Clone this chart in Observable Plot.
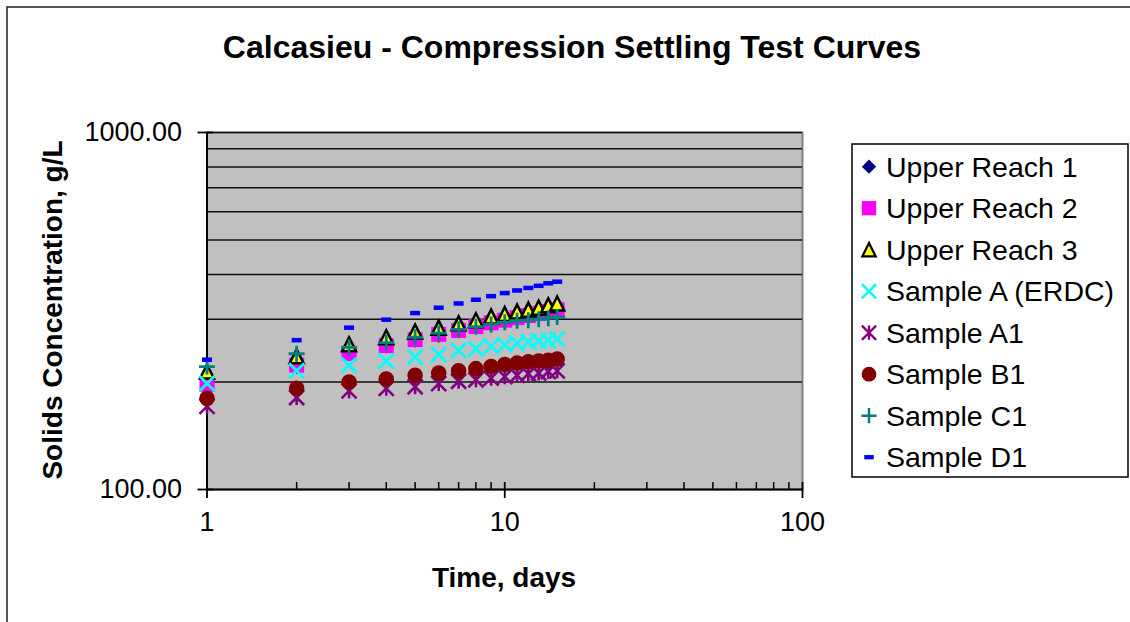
<!DOCTYPE html>
<html><head><meta charset="utf-8">
<script src="https://cdn.jsdelivr.net/npm/d3@7"></script>
<script src="https://cdn.jsdelivr.net/npm/@observablehq/plot@0.6"></script>
<style>
html,body{margin:0;padding:0;background:#fff;}
#chart{width:1130px;height:622px;overflow:hidden;position:relative;}
</style></head><body><div id="chart"></div>
<script>
// ---------- data ----------
const chartTitle = "Calcasieu - Compression Settling Test Curves";
const xTitle = "Time, days";
const yTitle = "Solids Concentration, g/L";

const days = [1, 2, 3, 4, 5, 6, 7, 8, 9, 10, 11, 12, 13, 14, 15];

const seriesNames = ["Upper Reach 1", "Upper Reach 2", "Upper Reach 3", "Sample A (ERDC)",
                     "Sample A1", "Sample B1", "Sample C1", "Sample D1"];

const upperReach1 = [195, 221, 240, 252, 262, 270, 278, 285, 291, 297, 302, 306, 310, 314, 318];
const upperReach2 = [197, 223, 241, 253, 263, 272, 279, 286, 293, 298, 303, 307, 311, 315, 319];
const upperReach3 = [214, 236, 255, 267, 277, 284, 292, 298, 305, 310, 315, 319, 323, 328, 332];
const sampleA     = [198, 215, 223, 229, 235, 239, 245, 248, 252, 254, 257, 259, 261, 262, 264];
const sampleA1    = [171, 181, 189, 192, 194, 198, 201, 203, 205, 207, 209, 211, 212, 214, 215];
const sampleB1    = [180, 192, 200, 204, 209, 212, 215, 218, 221, 224, 226, 228, 229, 230, 232];
const sampleC1    = [221, 240, 250, 258, 267, 274, 281, 286, 290, 294, 297, 298, 300, 302, 304];
const sampleD1    = [231, 262, 284, 299, 312, 323, 332, 340, 348, 355, 361, 367, 372, 378, 382];

const seriesValues = [upperReach1, upperReach2, upperReach3, sampleA, sampleA1, sampleB1, sampleC1, sampleD1];

const xTicks = [1, 10, 100];
const xMinorTicks = [2, 3, 4, 5, 6, 7, 8, 9, 20, 30, 40, 50, 60, 70, 80, 90];
const yTicks = [100, 1000];
const yGrid = [200, 300, 400, 500, 600, 700, 800, 900, 1000];

// ---------- marker shapes (Excel-like) ----------
const half = s => Math.sqrt(s / Math.PI);
const symDiamond = {draw(c, s) { const h = half(s); c.moveTo(0, -h); c.lineTo(h, 0); c.lineTo(0, h); c.lineTo(-h, 0); c.closePath(); }};
const symSquare = {draw(c, s) { const h = half(s); c.rect(-h, -h, 2 * h, 2 * h); }};
const symTriangle = {draw(c, s) { const h = half(s); c.moveTo(0, -h); c.lineTo(h, h); c.lineTo(-h, h); c.closePath(); }};
const symTimes = {draw(c, s) { const h = half(s); c.moveTo(-h, -h); c.lineTo(h, h); c.moveTo(-h, h); c.lineTo(h, -h); }};
const symStar = {draw(c, s) { const h = half(s); c.moveTo(-h, -h); c.lineTo(h, h); c.moveTo(-h, h); c.lineTo(h, -h); c.moveTo(0, -h); c.lineTo(0, h); }};
const symCircle = {draw(c, s) { const h = half(s); c.moveTo(h, 0); c.arc(0, 0, h, 0, 2 * Math.PI); c.closePath(); }};
const symPlus = {draw(c, s) { const h = half(s); c.moveTo(-h, 0); c.lineTo(h, 0); c.moveTo(0, -h); c.lineTo(0, h); }};
const symDash = {draw(c, s) { const h = half(s); c.rect(-h, -0.45 * h, 2 * h, 0.9 * h); }};

const styles = [
  {symbol: symDiamond,  r: 7.5, fill: "#000080", stroke: "none",    strokeWidth: 0},
  {symbol: symSquare,   r: 7.5, fill: "#FF00FF", stroke: "none",    strokeWidth: 0},
  {symbol: symTriangle, r: 7,   fill: "#FFFF00", stroke: "#000000", strokeWidth: 2.5},
  {symbol: symTimes,    r: 7.5, fill: "none",    stroke: "#00FFFF", strokeWidth: 2.8},
  {symbol: symStar,     r: 7.5, fill: "none",    stroke: "#800080", strokeWidth: 2.6},
  {symbol: symCircle,   r: 7.8, fill: "#800000", stroke: "none",    strokeWidth: 0},
  {symbol: symPlus,     r: 8,   fill: "none",    stroke: "#008080", strokeWidth: 2.8},
  {symbol: symDash,     r: 5,   fill: "#0000FF", stroke: "none",    strokeWidth: 0}
];

const tables = seriesValues.map((vals, si) => days.map((d, i) => ({day: d, value: vals[i], series: seriesNames[si]})));

const FONT = "'Liberation Sans', Arial, Helvetica, sans-serif";

const chart = Plot.plot({
  width: 1130,
  height: 622,
  marginLeft: 206.5,
  marginRight: 328,
  marginTop: 132,
  marginBottom: 133,
  style: {fontFamily: FONT, fontSize: "27px", background: "white", overflow: "visible", color: "black"},
  x: {type: "log", domain: [1, 100], axis: null},
  y: {type: "log", domain: [100, 1000], axis: null},
  marks: [
    Plot.frame({fill: "#C0C0C0", stroke: "#808080", strokeWidth: 2}),
    Plot.gridY(yGrid, {stroke: "#111", strokeOpacity: 1, strokeWidth: 1.5}),
    Plot.ruleX([1], {stroke: "#000", strokeWidth: 2}),
    Plot.ruleY([100], {stroke: "#000", strokeWidth: 2}),
    Plot.tickX(xMinorTicks, {x: d => d, stroke: "#000", strokeWidth: 1.5, insetTop: 350}),
    Plot.tickX(xTicks, {x: d => d, stroke: "#000", strokeWidth: 1.8, insetTop: 350, insetBottom: -9}),
    Plot.tickY(yTicks, {y: d => d, stroke: "#000", strokeWidth: 1.8, insetLeft: -9, insetRight: 589}),
    Plot.text(xTicks, {x: d => d, frameAnchor: "bottom", dy: 41, text: d => String(d), fontSize: 27, fill: "#000"}),
    Plot.text(yTicks, {y: d => d, frameAnchor: "left", dx: -25, textAnchor: "end", text: d => d3.format(".2f")(d), fontSize: 27, fill: "#000"}),
    ...tables.map((t, i) => Plot.dot(t, {x: "day", y: "value", symbol: styles[i].symbol, r: styles[i].r,
      fill: styles[i].fill, stroke: styles[i].stroke, strokeWidth: styles[i].strokeWidth}))
  ]
});

document.getElementById("chart").appendChild(chart);
const svg = d3.select(chart);

// outer chart border (top and left visible)
svg.append("path").attr("d", "M7,660 V7 H1160").attr("fill", "none").attr("stroke", "#222").attr("stroke-width", 1.5);

// title
svg.append("text").attr("x", 572).attr("y", 58).attr("text-anchor", "middle")
  .attr("font-family", FONT).attr("font-weight", "bold").attr("font-size", 32).attr("fill", "#000").text(chartTitle);

// axis titles
svg.append("text").attr("x", 504).attr("y", 587).attr("text-anchor", "middle")
  .attr("font-family", FONT).attr("font-weight", "bold").attr("font-size", 28).attr("fill", "#000").text(xTitle);
svg.append("text").attr("transform", "translate(52,310) rotate(-90)").attr("text-anchor", "middle")
  .attr("dy", "0.35em").attr("font-family", FONT).attr("font-weight", "bold").attr("font-size", 28).attr("fill", "#000").text(yTitle);

// legend
const lg = svg.append("g");
lg.append("rect").attr("x", 852).attr("y", 144).attr("width", 276).attr("height", 333)
  .attr("fill", "#fff").attr("stroke", "#000").attr("stroke-width", 1.5);
seriesNames.forEach((name, i) => {
  const cy = 166.7 + i * 41.5;
  const st = styles[i];
  lg.append("path").attr("transform", `translate(869,${cy})`)
    .attr("d", d3.symbol(st.symbol, st.r * st.r * Math.PI * 0.9)())
    .attr("fill", st.fill).attr("stroke", st.stroke).attr("stroke-width", st.strokeWidth * 0.9);
  lg.append("text").attr("x", 886).attr("y", cy).attr("dy", "0.36em").attr("text-anchor", "start")
    .attr("font-family", FONT).attr("font-size", 28.5).attr("fill", "#000").text(name);
});
</script>
</body></html>
